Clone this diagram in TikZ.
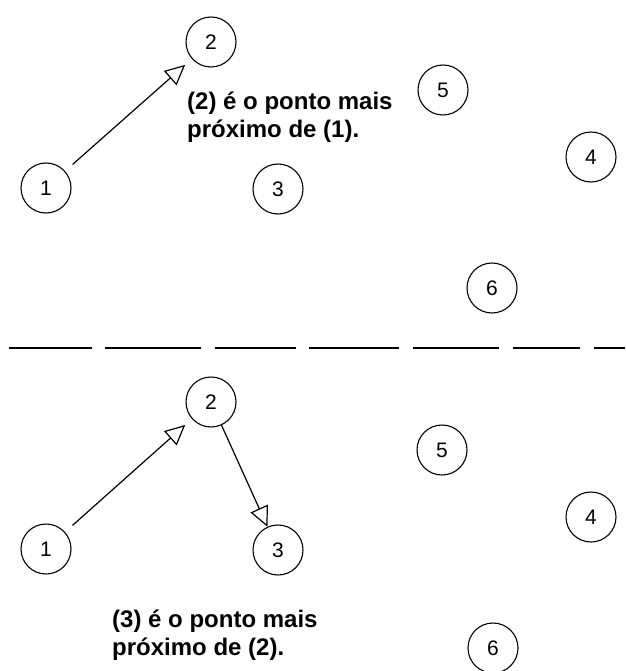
\documentclass[tikz,border=0pt]{standalone}
\usepackage{fontspec}
\setmainfont{Liberation Sans}
\usetikzlibrary{arrows.meta}
\begin{document}
\begin{tikzpicture}[x=1pt,y=-1pt,
  pt/.style={circle,draw,line width=1.1pt,minimum size=50pt,inner sep=0pt,font=\fontsize{21}{24}\selectfont},
  link/.style={line width=1.2pt,-{Triangle[open,length=20pt,width=19pt,line width=1.2pt]}},
  note/.style={anchor=base west,align=left,inner sep=0pt,font=\fontsize{24}{28}\selectfont\bfseries},
  sep/.style={line width=1.8pt}]
\useasboundingbox (0,0) rectangle (625,671);
% top half
\node[pt] (a1) at (46,188) {1};
\node[pt] (a2) at (211,42) {2};
\node[pt] (a3) at (278,189) {3};
\node[pt] (a4) at (591,157) {4};
\node[pt] (a5) at (443,90) {5};
\node[pt] (a6) at (492,288) {6};
\draw[link,shorten <=10pt,shorten >=9pt] (a1) -- (a2);
\node[note] (ta) at (187,138) {(2) é o ponto mais\\próximo de (1).};
% separator
\foreach \xa/\xb in {9/92,105/201,215/296,309/399,413/499,513/580,594/625}
  \draw[sep] (\xa,348) -- (\xb,348);
% bottom half
\node[pt] (b1) at (46,549) {1};
\node[pt] (b2) at (211,402) {2};
\node[pt] (b3) at (278,550) {3};
\node[pt] (b4) at (591,517) {4};
\node[pt] (b5) at (442,450) {5};
\node[pt] (b6) at (493,648) {6};
\draw[link,shorten <=10pt,shorten >=9pt] (b1) -- (b2);
\draw[link] (b2) -- (b3);
\node[note] (tb) at (112,655) {(3) é o ponto mais\\próximo de (2).};
\end{tikzpicture}
\end{document}
